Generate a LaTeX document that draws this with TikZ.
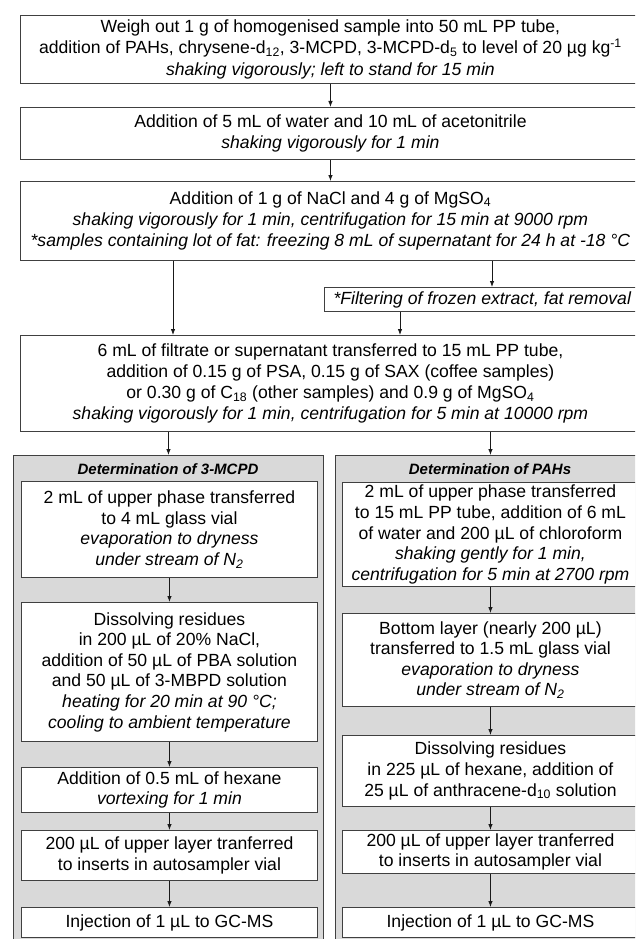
\documentclass[tikz,border=0pt]{standalone}
\usepackage{fontspec}
\setmainfont{Liberation Sans}
\usetikzlibrary{arrows.meta}
\begin{document}
\begin{tikzpicture}[x=1pt,y=-1pt]
\tikzset{
 box/.style={draw=black!75, fill=white, line width=0.9pt, align=center, inner sep=0pt, anchor=north west, font=\fontsize{17.6}{21.3}\selectfont},
 ibox/.style={box, font=\fontsize{17.6}{20.6}\selectfont},
 panel/.style={draw=black!75, fill=black!15, line width=0.9pt, anchor=north west, inner sep=0pt},
 ptitle/.style={font=\fontsize{15}{18}\selectfont\bfseries\itshape},
 arr/.style={draw=black!90, line width=0.8pt, -{Latex[length=6pt,width=4.5pt]}},
 link/.style={draw=black!90, line width=0.8pt}
}
\useasboundingbox (0,0) rectangle (635,939);
\clip (0,0) rectangle (635,939);
\fill[white] (0,0) rectangle (635,939);
% main column
\node[box, minimum width=620pt, minimum height=68pt] (b1) at (20,15) {Weigh out 1 g of homogenised sample into 50 mL PP tube,\\ addition of PAHs, chrysene-d\textsubscript{12}, 3-MCPD, 3-MCPD-d\textsubscript{5} to level of 20 µg kg\textsuperscript{-1}\\ \textit{shaking vigorously; left to stand for 15 min}};
\node[box, minimum width=620pt, minimum height=52pt] (b2) at (20,107) {Addition of 5 mL of water and 10 mL of acetonitrile\\ \textit{shaking vigorously for 1 min}};
\node[box, minimum width=620pt, minimum height=79pt] (b3) at (20,181) {Addition of 1 g of NaCl and 4 g of MgSO\textsubscript{4}\\ \textit{shaking vigorously for 1 min, centrifugation for 15 min at 9000 rpm}\\ \textit{*samples containing lot of fat: freezing 8 mL of supernatant for 24 h at -18 °C}};
\node[box, minimum width=316pt, minimum height=24pt] (bf) at (324,287) {\textit{*Filtering of frozen extract, fat removal}};
\node[box, minimum width=620pt, minimum height=96pt] (b5) at (20,335) {6 mL of filtrate or supernatant transferred to 15 mL PP tube,\\ addition of 0.15 g of PSA, 0.15 g of SAX (coffee samples)\\ or 0.30 g of C\textsubscript{18} (other samples) and 0.9 g of MgSO\textsubscript{4}\\ \textit{shaking vigorously for 1 min, centrifugation for 5 min at 10000 rpm}};
% panels
\node[panel, minimum width=310pt, minimum height=540pt] (pl) at (13,455) {};
\node[panel, minimum width=310pt, minimum height=540pt] (pr) at (335,455) {};
\node[ptitle] (tl) at (168,469) {Determination of 3-MCPD};
\node[ptitle] (tr) at (490,469) {Determination of PAHs};
% left column
\node[ibox, minimum width=296pt, minimum height=96pt] (l1) at (21,481) {2 mL of upper phase transferred\\ to 4 mL glass vial\\ \textit{evaporation to dryness}\\ \textit{under stream of N\textsubscript{2}}};
\node[ibox, minimum width=296pt, minimum height=139pt] (l2) at (21,602) {Dissolving residues\\ in 200 µL of 20\% NaCl,\\ addition of 50 µL of PBA solution\\ and 50 µL of 3-MBPD solution\\ \textit{heating for 20 min at 90 °C;}\\ \textit{cooling to ambient temperature}};
\node[ibox, minimum width=296pt, minimum height=45pt] (l3) at (21,767) {Addition of 0.5 mL of hexane\\ \textit{vortexing for 1 min}};
\node[ibox, minimum width=296pt, minimum height=50pt] (l4) at (21,830) {200 µL of upper layer tranferred\\ to inserts in autosampler vial};
\node[ibox, minimum width=296pt, minimum height=30pt] (l5) at (21,907) {Injection of 1 µL to GC-MS};
% right column
\node[ibox, minimum width=296pt, minimum height=104pt] (r1) at (342,482) {2 mL of upper phase transferred\\ to 15 mL PP tube, addition of 6 mL\\ of water and 200 µL of chloroform\\ \textit{shaking gently for 1 min,}\\ \textit{centrifugation for 5 min at 2700 rpm}};
\node[ibox, minimum width=296pt, minimum height=93pt] (r2) at (342,613) {Bottom layer (nearly 200 µL)\\ transferred to 1.5 mL glass vial\\ \textit{evaporation to dryness}\\ \textit{under stream of N\textsubscript{2}}};
\node[ibox, minimum width=296pt, minimum height=71pt] (r3) at (342,735) {Dissolving residues\\ in 225 µL of hexane, addition of\\ 25 µL of anthracene-d\textsubscript{10} solution};
\node[ibox, minimum width=296pt, minimum height=43pt] (r4) at (342,830) {200 µL of upper layer tranferred\\ to inserts in autosampler vial};
\node[ibox, minimum width=296pt, minimum height=30pt] (r5) at (342,907) {Injection of 1 µL to GC-MS};
% helper x positions
\coordinate (xl) at (173,0);
\coordinate (xr) at (492,0);
\coordinate (xf) at (400,0);
% connectors
\draw[arr] (b1.south) -- (b2.north);
\draw[arr] (b2.south) -- (b3.north);
\draw[arr] (b3.south -| xl) -- (b5.north -| xl);
\draw[arr] (b3.south -| xr) -- (bf.north -| xr);
\draw[arr] (bf.south -| xf) -- (b5.north -| xf);
\draw[arr] (b5.south -| pl.north) -- (pl.north);
\draw[arr] (b5.south -| pr.north) -- (pr.north);
\draw[arr] (l1.south) -- (l2.north);
\draw[arr] (l2.south) -- (l3.north);
\draw[arr] (l3.south) -- (l4.north);
\draw[arr] (l4.south) -- (l5.north);
\draw[arr] (r1.south) -- (r2.north);
\draw[arr] (r2.south) -- (r3.north);
\draw[arr] (r3.south) -- (r4.north);
\draw[arr] (r4.south) -- (r5.north);
\end{tikzpicture}
\end{document}
